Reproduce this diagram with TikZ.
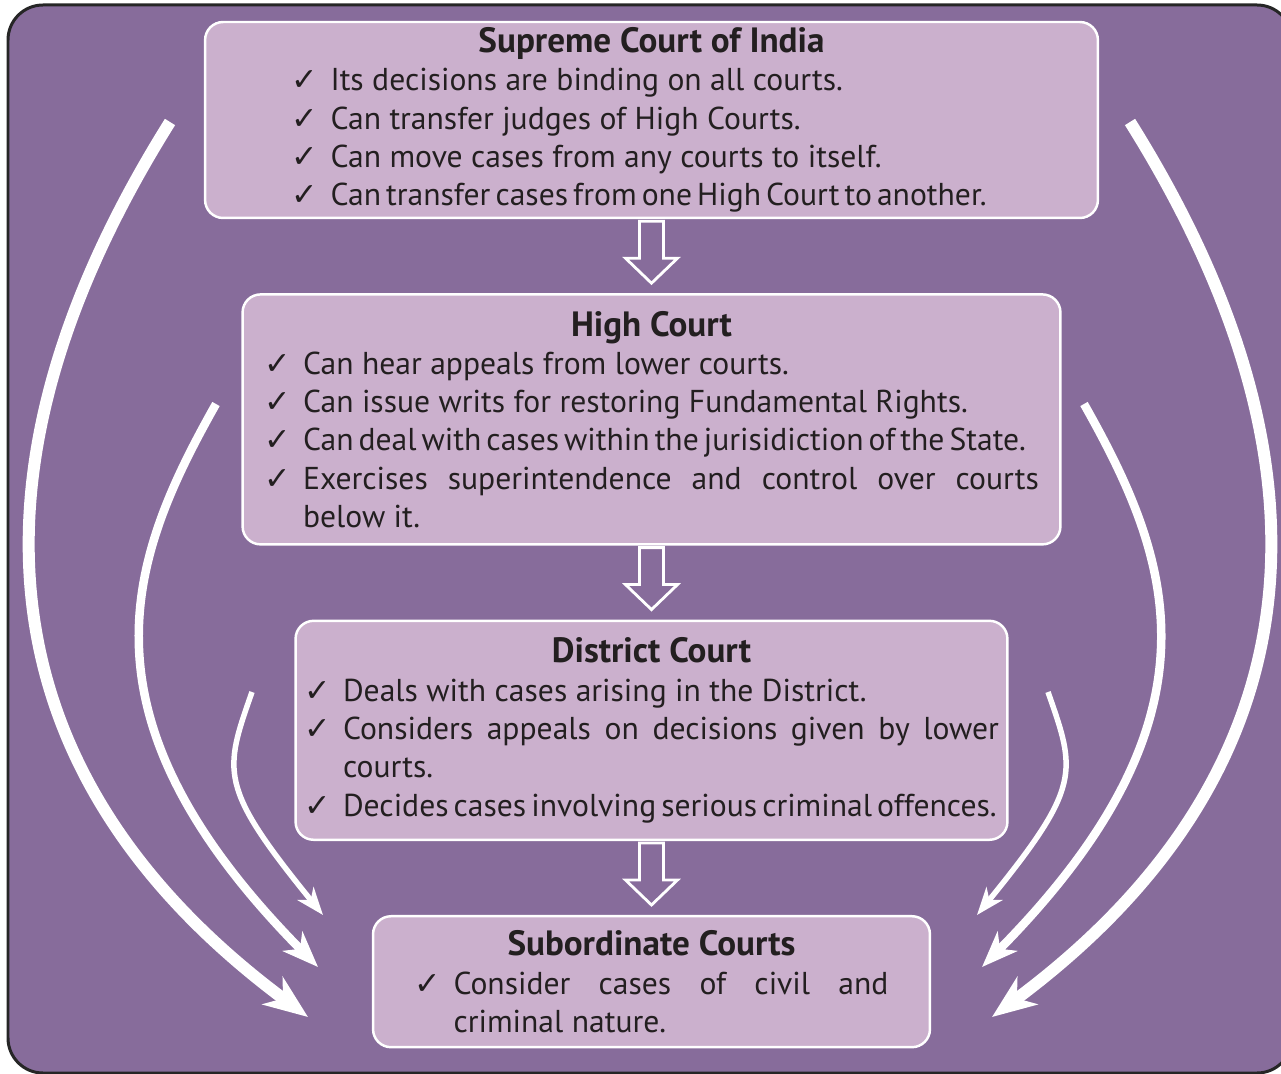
\documentclass[tikz,border=0pt]{standalone}
\usepackage{fontspec}
\setmainfont{PT Sans}
\newfontfamily\tickfont{DejaVu Sans}
\usetikzlibrary{arrows.meta,positioning,calc}
\definecolor{bgpurple}{RGB}{135,108,155}
\definecolor{boxlilac}{RGB}{203,176,205}
\definecolor{inkgray}{RGB}{35,31,32}
\hyphenpenalty=10000
\newcommand{\boxtitle}[1]{{\centering\fontsize{20pt}{21.8pt}\selectfont\bfseries #1\par}}
\newcommand{\tick}[1]{\par\noindent\hangindent=0.78cm\hangafter=1\makebox[0.78cm][l]{\tickfont ✓}#1\par}
\newcommand{\tight}[1]{{\spaceskip=0.16em plus 0.05em minus 0.02em #1}}

\begin{document}
\begin{tikzpicture}[x=0.02cm, y=-0.02cm, node distance=1.48cm,
    court/.style={draw=white, line width=1.4pt, fill=boxlilac, rounded corners=0.36cm, text=inkgray,
      inner sep=2pt, align=justify, font=\fontsize{18pt}{21.8pt}\selectfont},
    flow/.style={white, line width=1.6pt, line join=miter},
    bend1/.style={white, line width=0.24cm, -{Stealth[length=0.88cm, width=0.68cm, inset=0.26cm]}},
    bend2/.style={white, line width=0.17cm, -{Stealth[length=0.72cm, width=0.55cm, inset=0.21cm]}},
    bend3/.style={white, line width=0.11cm, -{Stealth[length=0.55cm, width=0.41cm, inset=0.16cm]}}]
  \useasboundingbox (0,0) rectangle (1281,1074);
  \clip (0,0) rectangle (1281,1074);
  \draw[fill=bgpurple, draw=black!85, line width=0.06cm, rounded corners=0.7cm] (8,5) rectangle (1292,1073);

  \node[court, minimum width=17.86cm, minimum height=3.92cm, text width=14.4cm] (sc) at (651.5,120) {
    \boxtitle{Supreme Court of India}
    \tick{Its decisions are binding on all courts.}
    \tick{Can transfer judges of High Courts.}
    \tick{Can move cases from any courts to itself.}
    \tick{\tight{Can transfer cases from one High Court to another.}}};
  \node[court, minimum width=16.36cm, minimum height=5cm, text width=15.5cm, below=of sc] (hc) {
    \boxtitle{High Court}
    \tick{Can hear appeals from lower courts.}
    \tick{Can issue writs for restoring Fundamental Rights.}
    \tick{\tight{Can deal with cases within the jurisidiction of the State.}}
    \tick{Exercises superintendence and control over courts\linebreak below it.}};
  \node[court, minimum width=14.24cm, minimum height=4.38cm, text width=13.9cm, below=of hc] (dc) {
    \boxtitle{District Court}
    \tick{Deals with cases arising in the District.}
    \tick{Considers appeals on decisions given by lower\linebreak courts.}
    \tick{\tight{Decides cases involving serious criminal offences.}}};
  \node[court, minimum width=11.14cm, minimum height=2.62cm, text width=9.48cm, below=of dc] (sub) {
    \boxtitle{Subordinate Courts}
    \tick{Consider cases of civil and\linebreak criminal nature.}};

  % hollow arrows between the courts
  \foreach \a/\b in {sc/hc, hc/dc, dc/sub}
    \draw[flow] ($(\a.south)+(-12,2)$) -- ($(\a.south)+(12,2)$) -- ($(\b.north)+(12,-35)$)
      -- ($(\b.north)+(26,-35)$) -- ($(\b.north)+(0,-10)$) -- ($(\b.north)+(-26,-35)$)
      -- ($(\b.north)+(-12,-35)$) -- cycle;

  % curved arrows down to the subordinate courts
  \coordinate (l1) at (170,122);  \coordinate (l1e) at (308,1017);
  \coordinate (l2) at (216,404);  \coordinate (l2e) at (318,967);
  \coordinate (l3) at (252,692);  \coordinate (l3e) at (323,915);
  \coordinate (r1) at (1130,122); \coordinate (r1e) at (992,1017);
  \coordinate (r2) at (1084,404); \coordinate (r2e) at (982,967);
  \coordinate (r3) at (1048,692); \coordinate (r3e) at (977,915);
  \draw[bend1] (l1) .. controls (-38,454) and (-30,766) .. (l1e);
  \draw[bend2] (l2) .. controls (128,560) and (70,716) .. (l2e);
  \draw[bend3] (l3) .. controls (224,772) and (218,786) .. (l3e);
  \draw[bend1] (r1) .. controls (1338,454) and (1330,766) .. (r1e);
  \draw[bend2] (r2) .. controls (1172,560) and (1230,716) .. (r2e);
  \draw[bend3] (r3) .. controls (1076,772) and (1082,786) .. (r3e);
\end{tikzpicture}
\end{document}
